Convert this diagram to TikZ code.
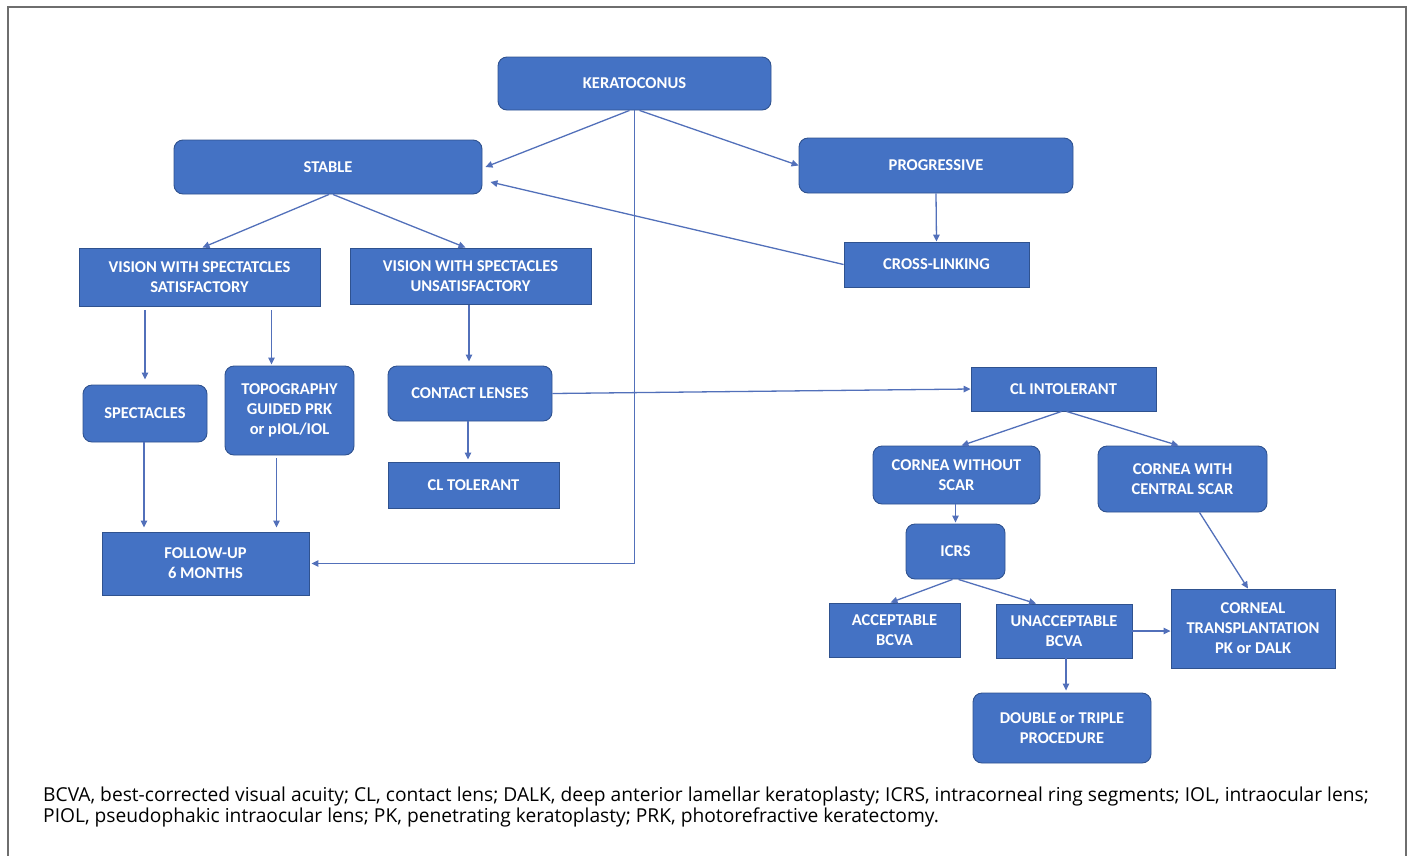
\documentclass[tikz,border=0pt]{standalone}
\usepackage{fontspec}
\setmainfont{Carlito}
\newfontfamily\capfont{Open Sans}
\usetikzlibrary{arrows.meta,calc}
\definecolor{boxfill}{RGB}{68,114,196}
\definecolor{boxline}{RGB}{47,82,143}
\definecolor{arrcol}{RGB}{82,112,186}
\definecolor{framecol}{RGB}{110,110,110}
\tikzset{
  base/.style={draw=boxline, line width=0.9pt, fill=boxfill, text=white, align=center,
    font=\fontsize{16.5}{20}\selectfont\bfseries, inner sep=2pt},
  rbox/.style={base, rounded corners=9pt},
  sbox/.style={base},
  arr/.style={draw=arrcol, line width=1.3pt, -{Triangle[length=7pt,width=6.5pt]}},
  captext/.style={anchor=base west, inner sep=0pt, font=\capfont\fontsize{19.2}{21}\selectfont, text=black}
}
\begin{document}
\begin{tikzpicture}[x=1pt,y=-1pt]
\useasboundingbox (0,0) rectangle (1410,855);
\draw[framecol, line width=1.5pt] (8,856) -- (8,7) -- (1406,7) -- (1406,856);

\node[rbox, minimum width=273, minimum height=53] (ker) at (634.5,83.5) {KERATOCONUS};
\node[rbox, minimum width=308, minimum height=54] (stable) at (328,167) {STABLE};
\node[rbox, minimum width=274, minimum height=55] (prog) at (936,165.5) {PROGRESSIVE};
\node[sbox, minimum width=185, minimum height=45] (cross) at (936.5,264.5) {CROSS-LINKING};
\node[sbox, minimum width=241, minimum height=58] (vsat) at (199.5,277) {VISION WITH SPECTATCLES\\SATISFACTORY};
\node[sbox, minimum width=241, minimum height=56] (vuns) at (470.5,276) {VISION WITH SPECTACLES\\UNSATISFACTORY};
\node[rbox, minimum width=124, minimum height=57] (spec) at (145,413.5) {SPECTACLES};
\node[rbox, minimum width=129, minimum height=89] (topo) at (289.5,410.5) {TOPOGRAPHY\\GUIDED PRK\\or pIOL/IOL};
\node[rbox, minimum width=164, minimum height=55] (cl) at (470,393.5) {CONTACT LENSES};
\node[sbox, minimum width=171, minimum height=46] (cltol) at (473.5,485) {CL TOLERANT};
\node[sbox, minimum width=207, minimum height=63] (fu) at (205.5,563.5) {FOLLOW-UP\\6 MONTHS};
\node[sbox, minimum width=185, minimum height=44] (clint) at (1063.5,389) {CL INTOLERANT};
\node[rbox, minimum width=167, minimum height=58] (cws) at (956.5,475) {CORNEA WITHOUT\\SCAR};
\node[rbox, minimum width=169, minimum height=66] (cwcs) at (1182.5,479) {CORNEA WITH\\CENTRAL SCAR};
\node[rbox, minimum width=99, minimum height=55] (icrs) at (955.5,551.5) {ICRS};
\node[sbox, minimum width=131, minimum height=54] (acc) at (894.5,630) {ACCEPTABLE\\BCVA};
\node[sbox, minimum width=136, minimum height=54] (unacc) at (1064,631) {UNACCEPTABLE\\BCVA};
\node[sbox, minimum width=164, minimum height=79] (ct) at (1253,628.5) {CORNEAL\\TRANSPLANTATION\\PK or DALK};
\node[rbox, minimum width=178, minimum height=70] (dt) at (1062,728) {DOUBLE or TRIPLE\\PROCEDURE};

% connectors
\draw[arr] ([xshift=-5pt]ker.south) -- ([xshift=3pt]stable.east);
\draw[arr] ([xshift=5pt]ker.south) -- (prog.west);
\draw[arr] (prog.south) -- (cross.north);
\draw[arr] (cross.west) -- ([xshift=8pt,yshift=-15pt]stable.east);
\draw[arr] ([xshift=1pt]stable.south) -- ([xshift=3pt]vsat.north);
\draw[arr] ([xshift=5pt]stable.south) -- ([xshift=-5pt]vuns.north);
\draw[arr, shorten <=4pt, shorten >=5pt] (spec.north |- vsat.south) -- (spec.north);
\draw[arr, shorten <=4pt, shorten >=1pt] ([xshift=-18pt]topo.north |- vsat.south) -- ([xshift=-18pt]topo.north);
\draw[arr, shorten <=1pt, shorten >=4pt] ([xshift=-1pt]cl.north |- vuns.south) -- ([xshift=-1pt]cl.north);
\draw[arr, shorten >=2pt] ([xshift=-2pt]cl.south) -- ([xshift=-2pt]cl.south |- cltol.north);
\draw[arr, shorten >=4pt] ([xshift=-1pt]spec.south) -- ([xshift=-1pt]spec.south |- fu.north);
\draw[arr, shorten <=3pt, shorten >=4pt] ([xshift=-13pt]topo.south) -- ([xshift=-13pt]topo.south |- fu.north);
\draw[arr, shorten >=2pt] (ker.south) -- (ker.south |- fu.east) -- (fu.east);
\draw[arr] (cl.east) -- (clint.west);
\draw[arr] ([xshift=-2pt]clint.south) -- ([xshift=5pt]cws.north);
\draw[arr] ([xshift=3pt]clint.south) -- ([xshift=-4pt]cwcs.north);
\draw[arr, shorten >=1pt] ([xshift=-1pt]cws.south) -- ([xshift=-1pt]cws.south |- icrs.north);
\draw[arr] ([xshift=-3pt]icrs.south) -- ([xshift=-4pt]acc.north);
\draw[arr] ([xshift=3pt]icrs.south) -- ([xshift=-28pt]unacc.north);
\draw[arr] ([xshift=17pt]cwcs.south) -- ([xshift=-5pt]ct.north);
\draw[arr] (unacc.east) -- (unacc.east -| ct.west);
\draw[arr, shorten >=2pt] ([xshift=2pt]unacc.south) -- ([xshift=2pt]unacc.south |- dt.north);

% caption
\node[captext] (c1) at (43,801) {BCVA, best-corrected visual acuity; CL, contact lens; DALK, deep anterior lamellar keratoplasty; ICRS, intracorneal ring segments; IOL, intraocular lens;};
\node[captext] (c2) at (43,822) {PIOL, pseudophakic intraocular lens; PK, penetrating keratoplasty; PRK, photorefractive keratectomy.};
\end{tikzpicture}
\end{document}
